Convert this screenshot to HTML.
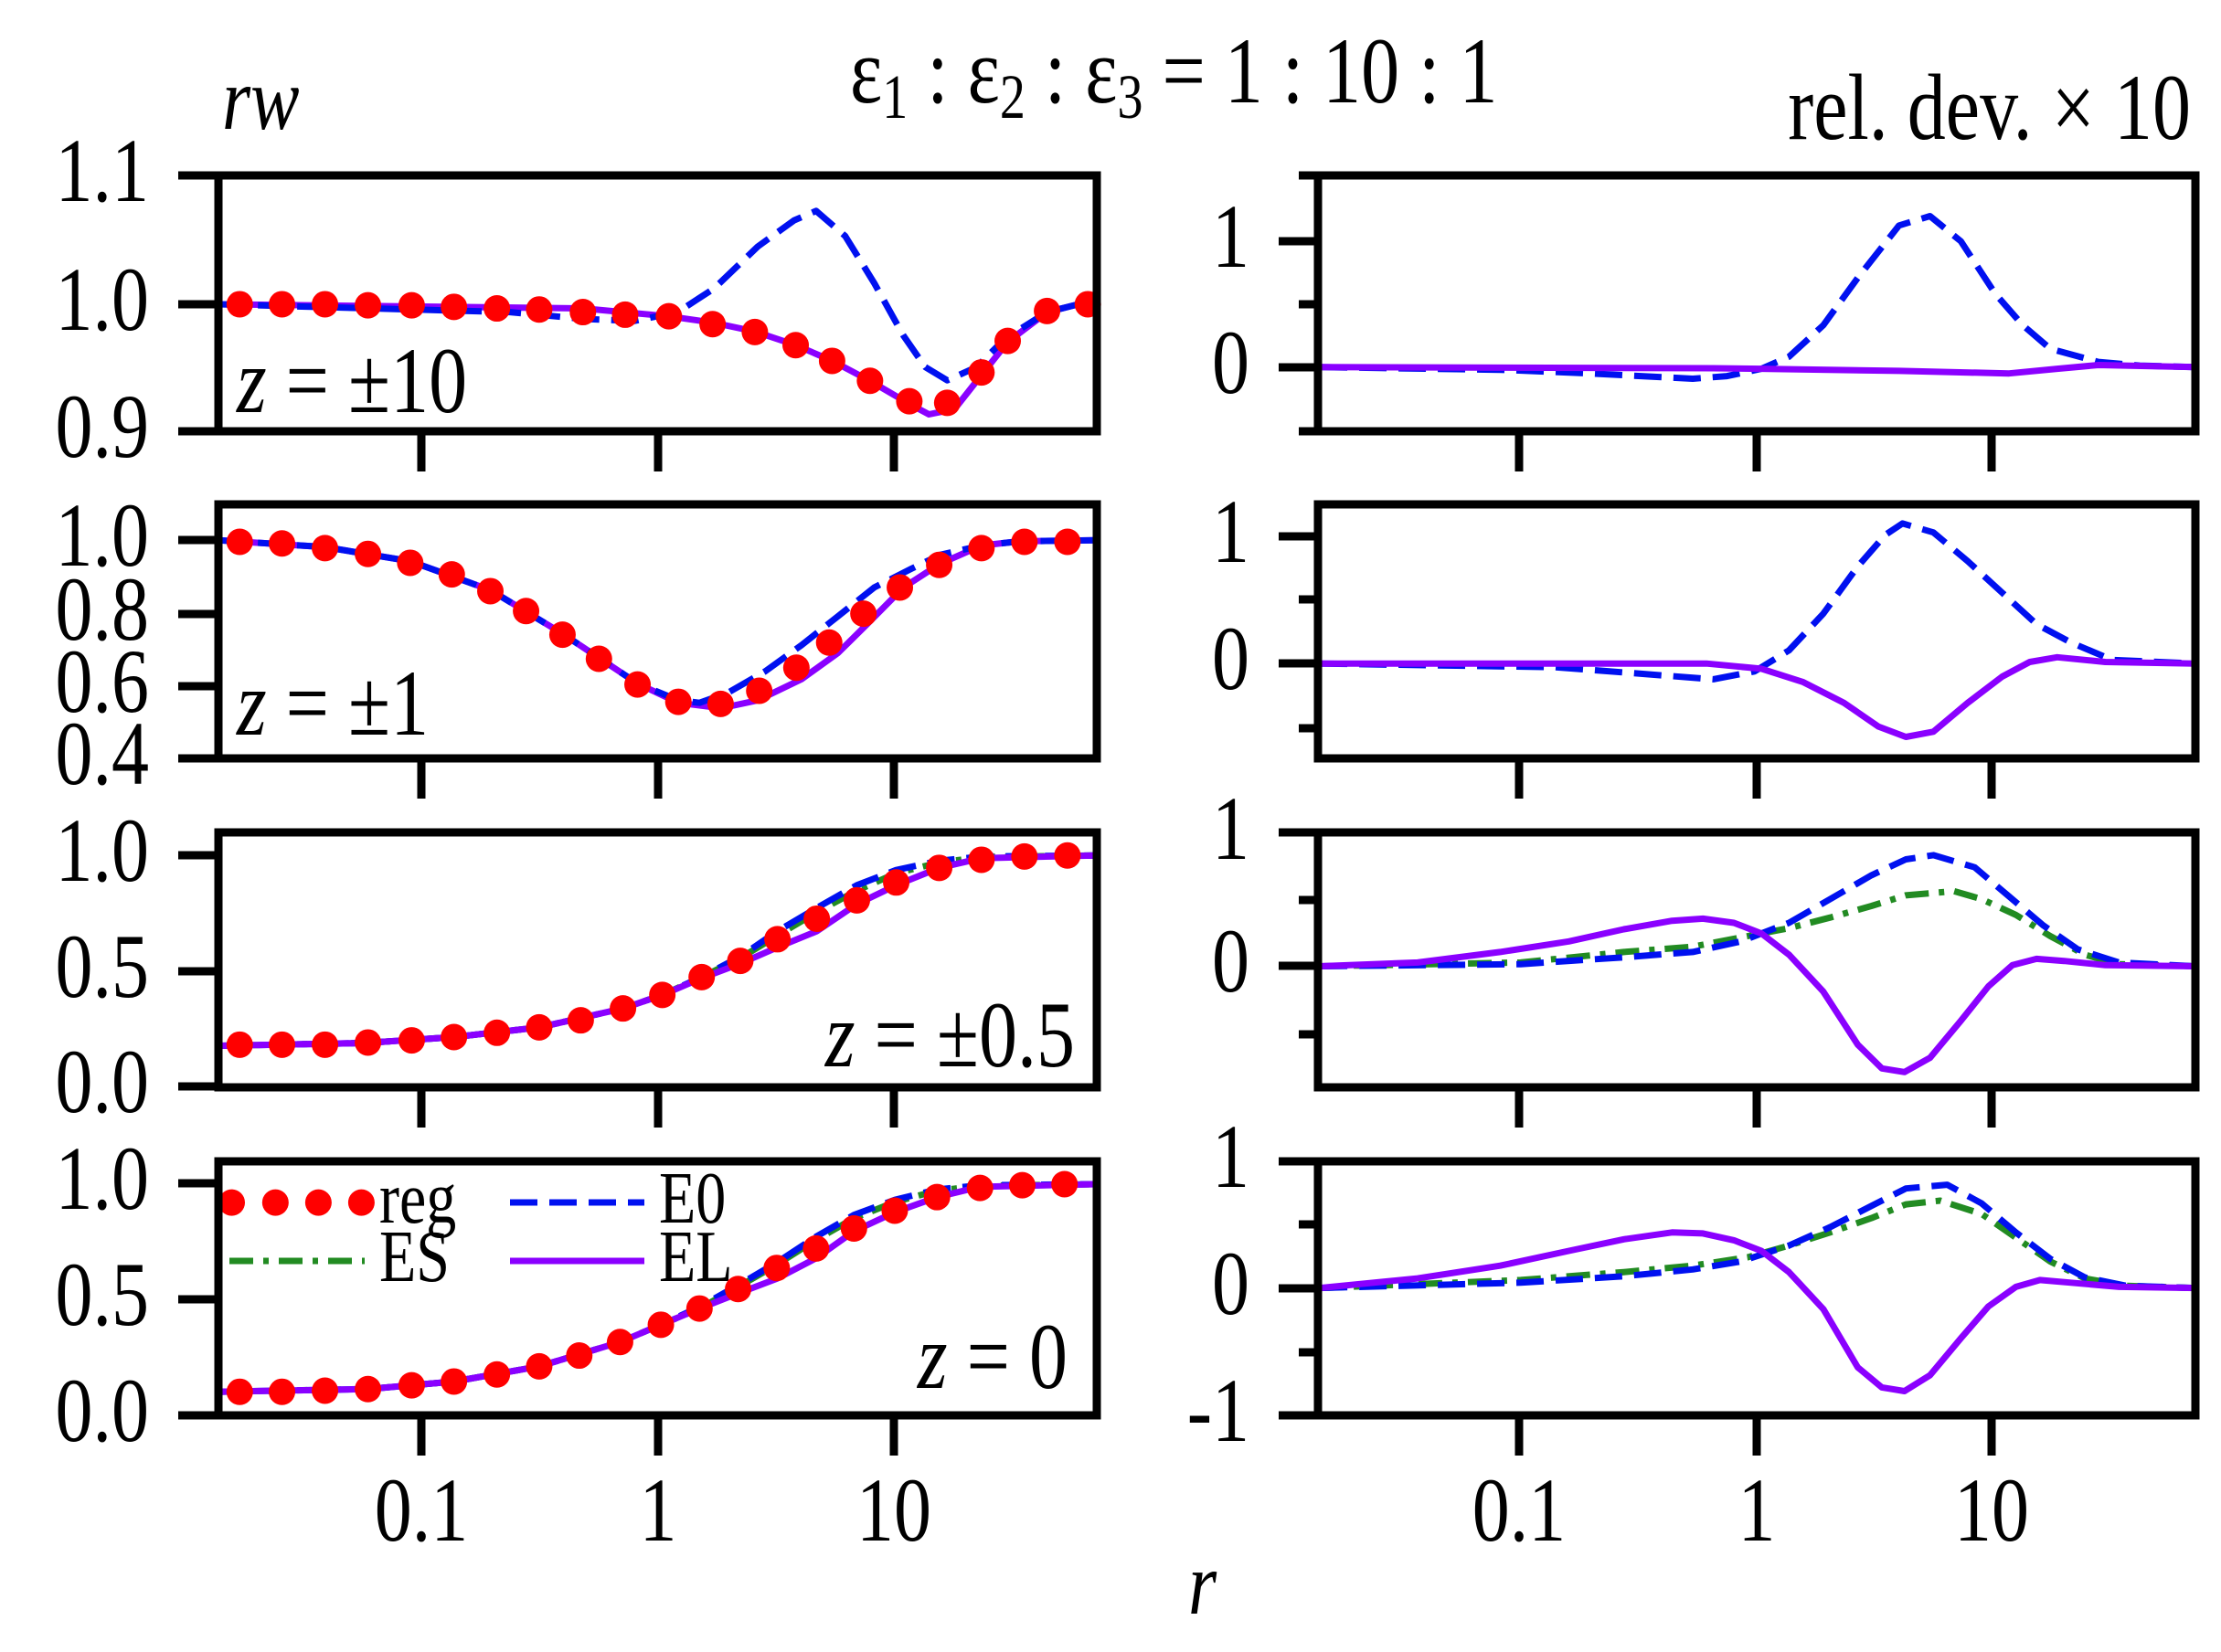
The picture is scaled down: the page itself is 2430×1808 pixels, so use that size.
<!DOCTYPE html>
<html><head><meta charset="utf-8">
<style>
html,body{margin:0;padding:0;background:#fff;}
svg{display:block;}
text{font-family:"Liberation Serif",serif;fill:#000;}
</style></head>
<body>
<svg id="s" width="2430" height="1808" viewBox="0 0 2430 1808" xmlns="http://www.w3.org/2000/svg">
<rect width="2430" height="1808" fill="#fff"/>
<text x="243" y="141" font-size="80" font-style="italic">rw</text>
<text x="930" y="112" font-size="84">ε<tspan font-size="56" dy="14">1</tspan><tspan dy="-14"> : ε</tspan><tspan font-size="56" dy="14">2</tspan><tspan dy="-14"> : ε</tspan><tspan font-size="56" dy="14">3</tspan><tspan dy="-14"> = 1 : 10 : 1</tspan></text>
<text x="2397" y="152" font-size="84" text-anchor="end">rel. dev. × 10</text>
<text x="1300" y="1766" font-size="80" font-style="italic">r</text>
<g font-size="82" text-anchor="end">
<text x="163" y="220">1.1</text><text x="163" y="361">1.0</text><text x="163" y="500">0.9</text>
<text x="163" y="619">1.0</text><text x="163" y="700">0.8</text><text x="163" y="779">0.6</text><text x="163" y="858">0.4</text>
<text x="163" y="964">1.0</text><text x="163" y="1091">0.5</text><text x="163" y="1217">0.0</text>
<text x="163" y="1323">1.0</text><text x="163" y="1450">0.5</text><text x="163" y="1577">0.0</text>
<text x="1367" y="292">1</text><text x="1367" y="430">0</text>
<text x="1367" y="615">1</text><text x="1367" y="754">0</text>
<text x="1367" y="940">1</text><text x="1367" y="1085">0</text>
<text x="1367" y="1299">1</text><text x="1367" y="1438">0</text><text x="1367" y="1577">-1</text>
</g>
<g font-size="82" text-anchor="middle">
<text x="461" y="1686">0.1</text><text x="720" y="1686">1</text><text x="978" y="1686">10</text>
<text x="1662" y="1686">0.1</text><text x="1922" y="1686">1</text><text x="2179" y="1686">10</text>
</g>
<g font-size="84">
<text x="259" y="451"><tspan font-style="italic">z</tspan> = ±10</text>
<text x="259" y="804"><tspan font-style="italic">z</tspan> = ±1</text>
<text x="1176" y="1167" text-anchor="end"><tspan font-style="italic">z</tspan> = ±0.5</text>
<text x="1168" y="1519" text-anchor="end"><tspan font-style="italic">z</tspan> = 0</text>
</g>
<g font-size="66">
<text x="415" y="1338">reg</text><text x="721" y="1338">E0</text>
<text x="415" y="1402">ES</text><text x="721" y="1402">EL</text>
</g>
<g id="g"></g>
</svg>
<script>
Array.prototype.forEach.call(document.querySelectorAll("text"),function(t){var y=+t.getAttribute("y");t.setAttribute("transform","matrix(1,0,0,1.22,0,"+(-0.22*y)+")");});
var NS="http://www.w3.org/2000/svg",G=document.getElementById("g");
function el(t,a){var e=document.createElementNS(NS,t);for(var k in a)e.setAttribute(k,a[k]);G.appendChild(e);return e;}
function line(x1,y1,x2,y2,w){el("line",{x1:x1,y1:y1,x2:x2,y2:y2,stroke:"#000","stroke-width":w||8});}
var cols={E0:"#0010f0",ES:"#228b22",EL:"#8a00ff"};
var dash={E0:"30 13",ES:"26 11 6 11",EL:""};
var LW=7;
function path(pts,fx,fy,type){var d="";for(var i=0;i<pts.length;i+=2){d+=(i?"L":"M")+fx(pts[i]).toFixed(1)+","+fy(pts[i+1]).toFixed(1);}
 var a={d:d,fill:"none",stroke:cols[type],"stroke-width":LW,"stroke-linejoin":"round"};if(dash[type])a["stroke-dasharray"]=dash[type];el("path",a);}
function dots(pts,fx,fy){for(var i=0;i<pts.length;i+=2)el("ellipse",{cx:fx(pts[i]),cy:fy(pts[i+1]),rx:14.5,ry:14.5,fill:"#ff0000"});}
var LX=function(x){return x/1.2544;},RX=function(x){return 1250+x/1.329;};
var Y1=function(y){return y/1.742;},Y4=function(y){return 880+y/1.69;},Y2=function(y){return 900+y/1.727;};
var panels=[[192,472],[552,830],[911,1190],[1271,1549]];
path([300,580,800,588,918,603,978,615,1036,632,1092,658,1142,688,1194,726,1248,770,1275,790,1310,780,1347,715,1383,652,1437,595,1480,580,1505,580],LX,Y1,"EL");
path([300,580,700,595,800,608,870,612,930,595,980,550,1040,470,1090,420,1120,402,1160,450,1200,540,1240,640,1270,700,1300,725,1340,700,1380,645,1437,595,1480,580,1505,580],LX,Y1,"E0");
dots([329,580,387,580,446,580,505,582,565,582,623,585,682,588,740,590,800,595,858,600,918,603,978,618,1036,633,1092,658,1142,688,1194,726,1248,765,1300,768,1347,710,1383,650,1437,593,1493,580],LX,Y1);
path([300,1030,446,1043,563,1070,673,1125,772,1208,875,1303,931,1340,990,1350,1040,1335,1100,1295,1150,1245,1190,1190,1240,1120,1290,1075,1347,1040,1400,1032,1505,1030],LX,Y1,"EL");
path([300,1030,446,1043,563,1070,673,1125,772,1208,875,1303,931,1335,960,1340,1000,1320,1050,1280,1100,1230,1150,1175,1200,1120,1250,1085,1290,1058,1347,1040,1400,1032,1505,1030],LX,Y1,"E0");
dots([329,1033,387,1036,446,1045,505,1056,563,1073,620,1095,673,1127,722,1165,772,1210,822,1256,875,1305,931,1338,989,1342,1042,1317,1093,1273,1138,1225,1185,1170,1235,1120,1289,1077,1347,1045,1406,1033,1465,1033],LX,Y1);
path([300,447,500,442,623,431,740,413,855,378,909,353,963,320,1016,285,1067,243,1121,200,1176,160,1230,128,1289,108,1347,98,1505,95],LX,Y4,"ES");
path([300,447,500,442,623,431,740,413,855,378,909,353,963,320,1016,282,1067,235,1121,192,1176,150,1230,122,1289,105,1347,97,1505,95],LX,Y4,"E0");
path([300,447,500,442,623,431,740,413,855,378,909,353,963,322,1016,295,1067,265,1121,235,1176,185,1230,150,1289,118,1347,100,1505,95],LX,Y4,"EL");
dots([329,445,387,445,446,445,505,441,565,437,623,431,682,423,740,413,797,400,855,378,909,353,963,320,1016,290,1067,250,1121,212,1176,178,1230,145,1289,118,1347,103,1406,97,1465,95],LX,Y4);
path([300,1087,505,1082,623,1068,740,1040,851,995,907,963,960,933,1013,893,1066,852,1120,806,1172,766,1228,736,1286,715,1345,706,1505,703],LX,Y4,"ES");
path([300,1087,505,1082,623,1068,740,1040,851,995,907,963,960,930,1013,890,1066,848,1120,800,1172,760,1228,732,1286,713,1345,705,1505,703],LX,Y4,"E0");
path([300,1087,505,1082,623,1068,740,1040,851,995,907,963,960,933,1013,905,1066,878,1120,840,1172,790,1228,755,1286,727,1345,708,1505,703],LX,Y4,"EL");
dots([329,1087,387,1087,446,1085,505,1082,565,1075,623,1068,682,1055,740,1040,795,1020,851,995,907,963,960,933,1013,897,1066,858,1120,822,1172,785,1228,752,1286,727,1345,710,1403,705,1461,703],LX,Y4);
path([258,700,520,705,650,712,800,722,850,717,900,703,940,680,990,620,1040,530,1100,430,1145,412,1190,460,1240,560,1280,620,1320,665,1390,690,1450,697,1530,700],RX,Y1,"E0");
path([258,700,830,702,900,703,1100,707,1260,712,1330,703,1390,696,1530,700],RX,Y1,"EL");
path([258,1265,600,1272,760,1288,830,1295,890,1280,940,1240,990,1170,1040,1080,1080,1020,1105,998,1150,1015,1200,1070,1250,1130,1300,1190,1350,1225,1410,1258,1530,1265],RX,Y1,"E0");
path([258,1265,820,1265,900,1275,960,1300,1020,1340,1070,1385,1110,1405,1150,1395,1200,1340,1250,1290,1290,1262,1330,1253,1400,1262,1530,1265],RX,Y1,"EL");
path([258,272,550,265,700,245,800,235,880,215,940,200,1000,180,1060,158,1110,138,1180,130,1220,145,1270,175,1320,215,1370,250,1420,268,1530,272],RX,Y2,"ES");
path([258,272,550,268,700,255,800,245,870,225,940,190,1000,145,1060,100,1110,70,1150,62,1210,85,1260,140,1310,195,1360,240,1420,265,1530,272],RX,Y2,"E0");
path([258,272,400,265,520,245,620,225,700,202,770,186,815,182,860,190,900,210,940,250,990,320,1040,420,1075,465,1108,472,1145,445,1190,375,1230,310,1265,270,1300,258,1340,262,1400,270,1530,272],RX,Y2,"EL");
path([258,880,550,865,700,850,800,838,880,822,940,800,1000,775,1060,748,1110,722,1160,715,1220,740,1270,785,1320,830,1370,862,1430,876,1530,880],RX,Y2,"ES");
path([258,880,550,870,700,858,800,845,870,830,940,800,1000,765,1060,725,1110,692,1170,685,1220,720,1270,775,1320,825,1370,860,1430,876,1530,880],RX,Y2,"E0");
path([258,880,400,862,520,838,620,810,700,788,770,775,815,777,860,790,900,810,940,850,990,920,1040,1030,1075,1068,1108,1075,1145,1045,1190,975,1230,915,1270,878,1305,865,1350,870,1420,878,1530,880],RX,Y2,"EL");
dots([318,737,378,737,437,737,496,737],LX,Y4);
el("line",{x1:558,y1:1316,x2:705,y2:1316,stroke:cols.E0,"stroke-width":LW,"stroke-dasharray":dash.E0});
el("line",{x1:251,y1:1380,x2:399,y2:1380,stroke:cols.ES,"stroke-width":LW,"stroke-dasharray":dash.ES});
el("line",{x1:558,y1:1380,x2:705,y2:1380,stroke:cols.EL,"stroke-width":LW});
panels.forEach(function(p){
 [[239,1200,[461,720,978]],[1442,2402,[1662,1922,2179]]].forEach(function(q){
  el("rect",{x:q[0],y:p[0],width:q[1]-q[0],height:p[1]-p[0],fill:"none",stroke:"#000","stroke-width":9});
  q[2].forEach(function(x){line(x,p[1],x,p[1]+44,9);});
 });
});
[192,333,472, 591,672,751,830, 936,1063,1189, 1295,1422,1549].forEach(function(y){line(195,y,239,y,9);});
[264,402,587,726,911,1057,1271,1410,1549].forEach(function(y){line(1399,y,1442,y,9);});
[333,472,656,797,985,1132,1340,1480,192].forEach(function(y){line(1421,y,1442,y,9);});
</script>
</body></html>
